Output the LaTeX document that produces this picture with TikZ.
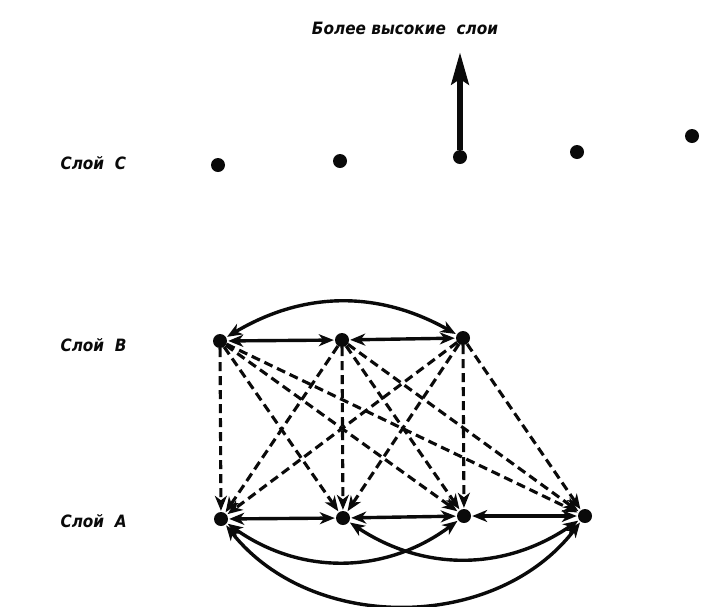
\documentclass[tikz,border=0pt]{standalone}
\usepackage{fontspec}
\setmainfont{DejaVu Sans Condensed}
\usetikzlibrary{arrows.meta,positioning}
\definecolor{ink}{RGB}{10,10,10}
\tikzset{
  >={Stealth[length=15pt,width=12pt,inset=4.5pt]},
  dot/.style={circle,fill=ink,inner sep=0pt,minimum size=14pt},
  layername/.style={anchor=west,font=\fontsize{17}{20}\selectfont\bfseries\itshape,text=ink},
  link/.style={<->,line width=3.4pt,draw=ink,shorten <=1pt,shorten >=1pt},
  feed/.style={->,line width=3.1pt,draw=ink,dash pattern=on 9pt off 5pt,shorten >=1pt},
  upward/.style={-{Stealth[length=32pt,width=17pt,inset=5pt]},line width=6.5pt,draw=ink},
}
\begin{document}
\begin{tikzpicture}[x=1pt,y=-1pt]
  \useasboundingbox (0,0) rectangle (701,606);
  % layer names
  \node[layername] (nameC) at (57,163) {Слой\ \ C};
  \node[layername] (nameB) at (57,345) {Слой\ \ B};
  \node[layername] (nameA) at (57,521) {Слой\ \ A};
  \node[layername,anchor=center] (higher) at (405,28) {Более высокие\ \ слои};
  % layer C
  \node[dot] (c1) at (218,165) {};
  \node[dot] (c2) at (340,161) {};
  \node[dot] (c3) at (460,157) {};
  \node[dot] (c4) at (577,152) {};
  \node[dot] (c5) at (692,136) {};
  \coordinate (uptip) at (460,52);
  \draw[upward] (c3.north) -- (uptip);
  % layer B
  \node[dot] (b1) at (220,341) {};
  \node[dot] (b2) at (342,340) {};
  \node[dot] (b3) at (463,338) {};
  % layer A
  \node[dot] (a1) at (221,519) {};
  \node[dot] (a2) at (343,518) {};
  \node[dot] (a3) at (464,516) {};
  \node[dot] (a4) at (585,516) {};
  % links inside B
  \draw[link] (b1) -- (b2);
  \draw[link] (b2) -- (b3);
  \draw[link] (b1) to[bend left=30] (b3);
  % links inside A
  \draw[link] (a1) -- (a2);
  \draw[link] (a2) -- (a3);
  \draw[link] (a3) -- (a4);
  \draw[link] (a1) to[bend right=36] (a3);
  \draw[link] (a2) to[bend right=34] (a4);
  \draw[link] (a1) to[bend right=52] (a4);
  % B feeds A
  \foreach \s in {b1,b2,b3}
    \foreach \t in {a1,a2,a3,a4}
      \draw[feed] (\s) -- (\t);
\end{tikzpicture}
\end{document}
